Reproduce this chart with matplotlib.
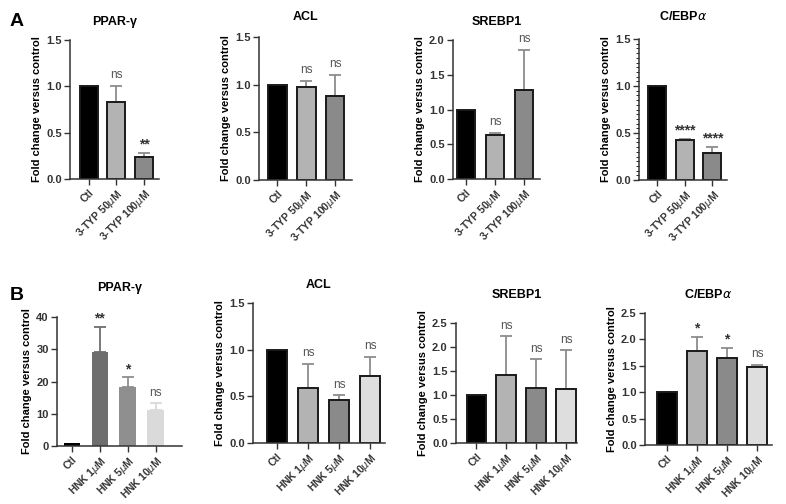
import matplotlib.pyplot as plt
from matplotlib.ticker import MultipleLocator

plt.rcParams['font.family'] = ['Liberation Sans', 'DejaVu Sans']
plt.rcParams['mathtext.fontset'] = 'dejavusans'

# --- data ---
labels_a = ['Ctl', '3-TYP 50$\\mu$M', '3-TYP 100$\\mu$M']
labels_b = ['Ctl', 'HNK 1$\\mu$M', 'HNK 5$\\mu$M', 'HNK 10$\\mu$M']

# row A (3-TYP)
a_ppar = [1.0, 0.83, 0.24]
a_ppar_err = [0.0, 0.17, 0.04]
a_ppar_sig = ['', 'ns', '**']

a_acl = [1.0, 0.98, 0.88]
a_acl_err = [0.0, 0.06, 0.22]
a_acl_sig = ['', 'ns', 'ns']

a_srebp = [1.0, 0.63, 1.28]
a_srebp_err = [0.0, 0.03, 0.58]
a_srebp_sig = ['', 'ns', 'ns']

a_cebp = [1.0, 0.43, 0.29]
a_cebp_err = [0.0, 0.01, 0.06]
a_cebp_sig = ['', '****', '****']

# row B (HNK)
b_ppar = [1.0, 29.0, 18.3, 11.2]
b_ppar_err = [0.0, 8.0, 3.0, 2.0]
b_ppar_sig = ['', '**', '*', 'ns']

b_acl = [1.0, 0.59, 0.46, 0.72]
b_acl_err = [0.0, 0.26, 0.05, 0.20]
b_acl_sig = ['', 'ns', 'ns', 'ns']

b_srebp = [1.0, 1.42, 1.15, 1.13]
b_srebp_err = [0.0, 0.80, 0.60, 0.80]
b_srebp_sig = ['', 'ns', 'ns', 'ns']

b_cebp = [1.0, 1.78, 1.64, 1.48]
b_cebp_err = [0.0, 0.26, 0.20, 0.04]
b_cebp_sig = ['', '*', '*', 'ns']

cols_a = ['black', '#b3b3b3', '#8a8a8a']
cols_b = ['black', '#b3b3b3', '#8a8a8a', '#dedede']
cols_b_ppar = ['black', '#6e6e6e', '#8f8f8f', '#dadada']

W, H = 786, 504
fig = plt.figure(figsize=(7.86, 5.04), dpi=100)


def panel(x0, x1, ytop, y0, title, labels, vals, errs, sig, ymax, step,
          colors, pads, tpad=11, edge=True, width=0.65, minor=None):
    ax = fig.add_axes([x0 / W, 1 - y0 / H, (x1 - x0) / W, (y0 - ytop) / H])
    x = range(len(vals))
    ax.bar(x, vals, width=width, color=colors,
           edgecolor='#1a1a1a' if edge else 'none', linewidth=1.4, zorder=2)
    for i in x:
        if errs[i] > 0:
            ecol = colors[i] if not edge else '#8c8c8c'
            ax.errorbar(i, vals[i], yerr=[[0], [errs[i]]], fmt='none',
                        ecolor=ecol, elinewidth=1.3, capsize=4.5,
                        capthick=1.3, zorder=1)
        if sig[i] == 'ns':
            ax.text(i, vals[i] + errs[i] + ymax * 0.035, sig[i],
                    ha='center', va='bottom', fontsize=8.5, color='#555555')
        elif sig[i]:
            ax.text(i, vals[i] + errs[i] + ymax * 0.01, sig[i],
                    ha='center', va='bottom', fontsize=10, color='#333333',
                    fontweight='bold')
    ax.set_xlim(-pads[0], len(vals) - 1 + pads[1])
    ax.set_ylim(0, ymax)
    ax.yaxis.set_major_locator(MultipleLocator(step))
    if minor:
        ax.yaxis.set_minor_locator(MultipleLocator(minor))
        ax.tick_params(axis='y', which='minor', length=2, width=0.6)
    if step < 1:
        ax.yaxis.set_major_formatter(plt.FormatStrFormatter('%.1f'))
    ax.set_xticks(list(x))
    ax.set_xticklabels(labels, rotation=45, ha='right',
                       rotation_mode='anchor', fontsize=7.5, fontweight='bold')
    for lab in ax.get_yticklabels():
        lab.set_fontsize(8)
        lab.set_fontweight('bold')
    ax.spines['top'].set_visible(False)
    ax.spines['right'].set_visible(False)
    for s in ('left', 'bottom'):
        ax.spines[s].set_linewidth(1.1)
        ax.spines[s].set_color('#333333')
    ax.tick_params(axis='both', which='major', length=4, width=1.0,
                   colors='#333333', pad=2)
    ax.set_ylabel('Fold change versus control', fontsize=8,
                  fontweight='bold', labelpad=3)
    ax.set_title(title, fontsize=9, fontweight='bold', pad=tpad)
    return ax


# row A
panel(70, 159, 40, 179, 'PPAR-\u03b3', labels_a, a_ppar, a_ppar_err,
      a_ppar_sig, 1.5, 0.5, cols_a, (0.67, 0.54), tpad=11)
panel(259, 352, 37, 180, 'ACL', labels_a, a_acl, a_acl_err,
      a_acl_sig, 1.5, 0.5, cols_a, (0.64, 0.59), tpad=12)
panel(453, 540, 40, 179, 'SREBP1', labels_a, a_srebp, a_srebp_err,
      a_srebp_sig, 2.0, 0.5, cols_a, (0.45, 0.55), tpad=11)
panel(639, 727, 39, 180, 'C/EBP$\\alpha$', labels_a, a_cebp, a_cebp_err,
      a_cebp_sig, 1.5, 0.5, cols_a, (0.67, 0.53), tpad=14, minor=0.05)

# row B
panel(57, 182, 317, 446, 'PPAR-\u03b3', labels_b, b_ppar, b_ppar_err,
      b_ppar_sig, 40, 10, cols_b_ppar, (0.54, 0.95), tpad=19, edge=False,
      width=0.6)
panel(253, 385, 303, 443, 'ACL', labels_b, b_acl, b_acl_err,
      b_acl_sig, 1.5, 0.5, cols_b, (0.77, 0.48), tpad=11)
panel(456, 577, 323, 443, 'SREBP1', labels_b, b_srebp, b_srebp_err,
      b_srebp_sig, 2.5, 0.5, cols_b, (0.68, 0.37), tpad=18)
panel(645, 772, 313, 445, 'C/EBP$\\alpha$', labels_b, b_cebp, b_cebp_err,
      b_cebp_sig, 2.5, 0.5, cols_b, (0.73, 0.5), tpad=11)

fig.text(10 / W, 1 - 22 / H, 'A', fontsize=14, fontweight='bold',
         ha='left', va='center')
fig.text(10 / W, 1 - 295 / H, 'B', fontsize=14, fontweight='bold',
         ha='left', va='center')

fig.savefig('out.png', dpi=100)
